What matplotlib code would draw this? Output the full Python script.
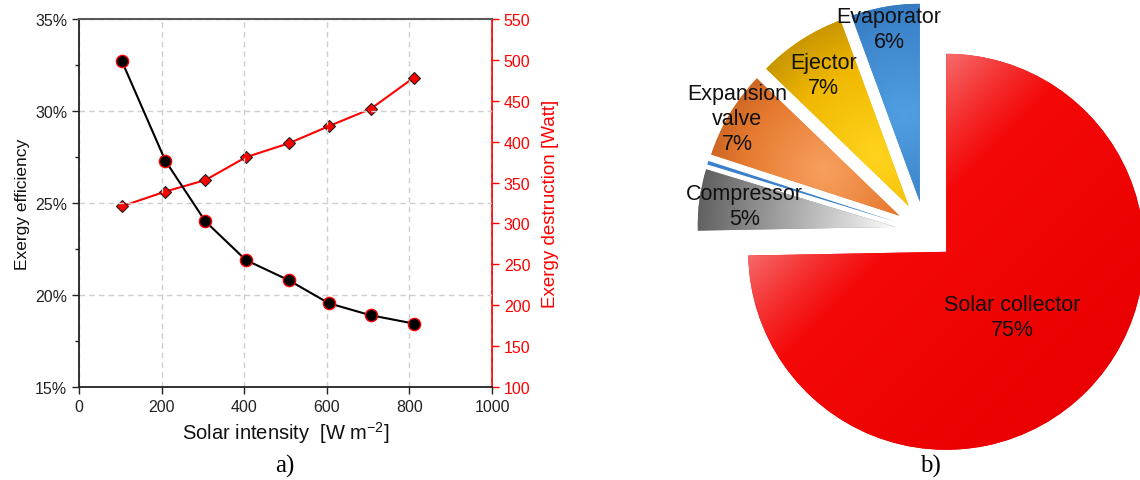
import numpy as np
import matplotlib
matplotlib.use("Agg")
import matplotlib.pyplot as plt
from matplotlib.ticker import MultipleLocator, FixedLocator, FuncFormatter
from matplotlib.colors import LinearSegmentedColormap

# ---------------- data ----------------
solar_intensity = [104, 209, 306, 404, 508, 605, 706, 810]          # W m-2
exergy_efficiency = [32.7, 27.3, 24.0, 21.9, 20.8, 19.55, 18.9, 18.45]  # %
exergy_destruction = [321, 339, 353, 381, 398, 419, 440, 478]       # Watt

x_ticks = [0, 200, 400, 600, 800, 1000]
eff_ticks = [15, 20, 25, 30, 35]
dest_ticks = [100, 150, 200, 250, 300, 350, 400, 450, 500, 550]

components = ["Solar collector", "Compressor", "", "Expansion\nvalve", "Ejector", "Evaporator"]
shares = [74.7, 5.0, 0.3, 7.2, 7.2, 5.6]   # % of total exergy destruction

# ---------------- style ----------------
plt.rcParams["font.family"] = ["Liberation Sans", "DejaVu Sans"]
plt.rcParams["mathtext.fontset"] = "custom"
plt.rcParams["mathtext.rm"] = "Liberation Sans"
plt.rcParams["mathtext.it"] = "Liberation Sans:italic"

W, H = 1140, 481
fig = plt.figure(figsize=(W / 100, H / 100), dpi=100)

# ---------------- left: line chart ----------------
L, R, T, B = 79, 492, 20, 388
ax = fig.add_axes([L / W, 1 - B / H, (R - L) / W, (B - T) / H])
ax2 = ax.twinx()
ax.set_zorder(ax2.get_zorder() + 1)
ax.patch.set_visible(False)

ax.set_xlim(0, 1000)
ax.set_ylim(15, 35)
ax.xaxis.set_major_locator(FixedLocator(x_ticks))
ax.yaxis.set_major_locator(FixedLocator(eff_ticks))
ax.yaxis.set_minor_locator(MultipleLocator(2.5))
ax.yaxis.set_major_formatter(FuncFormatter(lambda v, p: f"{v:.0f}%"))
ax.grid(True, which="major", linestyle=(0, (4, 3)), color="#cfcfcf", linewidth=1.0)
ax.tick_params(axis="both", which="major", direction="out", length=5, width=1,
               color="#222222", labelcolor="#222222", labelsize=11.5)
ax.tick_params(axis="y", which="minor", direction="out", length=3, width=1, color="#222222")
ax.yaxis.set_ticks_position("left")
ax.xaxis.set_ticks_position("bottom")
for s in ["left", "bottom"]:
    ax.spines[s].set_color("#222222")
    ax.spines[s].set_linewidth(1.3)
ax.spines["top"].set_color("#595959")
ax.spines["top"].set_linewidth(1.5)
ax.spines["right"].set_visible(False)

ax2.set_ylim(100, 550)
ax2.yaxis.set_major_locator(FixedLocator(dest_ticks))
ax2.tick_params(axis="y", direction="out", length=5, width=1, color="red",
                labelcolor="red", labelsize=11.5)
for s in ["left", "top", "bottom"]:
    ax2.spines[s].set_visible(False)
ax2.spines["right"].set_color("red")
ax2.spines["right"].set_linewidth(1.3)

ax2.plot(solar_intensity, exergy_destruction, "-D", color="red", lw=1.5,
         ms=6.5, mfc="red", mec="#222222", mew=0.8)
ax.plot(solar_intensity, exergy_efficiency, "-o", color="black", lw=1.5,
        ms=8.8, mfc="black", mec="red", mew=1.0, zorder=3)

ax.set_xlabel("Solar intensity  [W m$^{-2}$]", fontsize=14.5, color="#111111", labelpad=4)
ax.set_ylabel("Exergy efficiency", fontsize=12.5, color="#111111", labelpad=4)
ax2.set_ylabel("Exergy destruction [Watt]", fontsize=13.5, color="red", labelpad=8)

fig.text(285 / W, 1 - 466 / H, "a)", family="Liberation Serif", fontsize=18,
         ha="center", va="center")
fig.text(930 / W, 1 - 466 / H, "b)", family="Liberation Serif", fontsize=18,
         ha="center", va="center")

# ---------------- right: exploded pie ----------------
PL = 627
CX, CY, RAD = 925, 232, 198          # pie centre / radius in pixels
pax = fig.add_axes([PL / W, 0, (W - PL) / W, 1])
base_colors = ["#F20000", "#8C8C8C", "#3A80CC", "#E8762D", "#F2B600", "#3F86CF"]
wedges, _ = pax.pie(shares, startangle=90, counterclock=False,
                    explode=[0.15] * len(shares), radius=1, center=(0, 0),
                    colors=base_colors, wedgeprops=dict(linewidth=0))

def cmap_from(stops):
    return LinearSegmentedColormap.from_list("g", stops)

# gradient fills (decoration clipped to each wedge)
shading = [
    ("linear", None, [(0.0, "#F88080"), (0.2, "#F53030"), (0.33, "#F40808"), (1.0, "#EA0000")]),
    ("radial", 0.05, [(0.0, "#F4F4F4"), (0.5, "#A9A9A9"), (1.0, "#5E5E5E")]),
    ("flat", None, None),
    ("radial", 0.45, [(0.0, "#F8A060"), (0.55, "#E67A30"), (1.0, "#B8561A")]),
    ("radial", 0.30, [(0.0, "#FFD41E"), (0.55, "#F0B800"), (1.0, "#B88800")]),
    ("radial", 0.45, [(0.0, "#519FE2"), (0.6, "#3D85CC"), (1.0, "#2C6BAF")]),
]
n = 400
for w, (kind, f, stops) in zip(wedges, shading):
    if kind == "flat":
        continue
    cx, cy = w.center
    r = w.r
    x0, x1, y0, y1 = cx - r, cx + r, cy - r, cy + r
    X, Y = np.meshgrid(np.linspace(x0, x1, n), np.linspace(y0, y1, n))
    if kind == "linear":
        s = ((X - cx) - (Y - cy)) / (np.sqrt(2) * r)
        t = np.clip((s + 0.8) / 1.8, 0, 1)
    else:
        tm = np.deg2rad(0.5 * (w.theta1 + w.theta2))
        fx, fy = cx + f * r * np.cos(tm), cy + f * r * np.sin(tm)
        t = np.clip(np.hypot(X - fx, Y - fy) / ((1 - f * 0.6) * r), 0, 1)
    img = cmap_from(stops)(t)
    im = pax.imshow(img, extent=(x0, x1, y0, y1), origin="lower", aspect="auto",
                    interpolation="bilinear", zorder=w.get_zorder() + 0.1)
    im.set_clip_path(w)

# labels
label_dist = [0.62, 0.92, 0.0, 1.105, 0.94, 1.035]
for w, name, val, d in zip(wedges, components, shares, label_dist):
    if not name:
        continue
    tm = np.deg2rad(0.5 * (w.theta1 + w.theta2))
    pax.text(d * np.cos(tm), d * np.sin(tm), f"{name}\n{val:.0f}%",
             ha="center", va="center", fontsize=15.5, color="#111111",
             linespacing=1.25, zorder=10)

pax.set_xlim((PL - CX) / RAD, (W - CX) / RAD)
pax.set_ylim(-(H - CY) / RAD, CY / RAD)
pax.set_aspect("auto")
pax.axis("off")

fig.savefig("out.png", dpi=100)
